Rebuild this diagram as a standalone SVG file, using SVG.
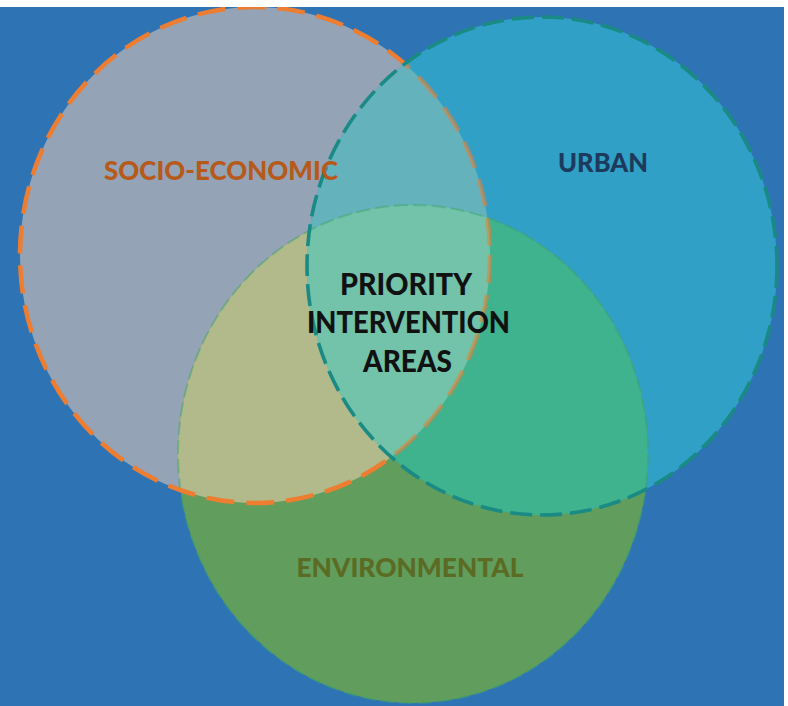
<svg xmlns="http://www.w3.org/2000/svg" width="788" height="706" viewBox="0 0 788 706">
  <style>
    .lbl { font-family: Lato, "Open Sans", "Liberation Sans", sans-serif; font-weight: 900; text-anchor: middle; }
    .dashS { fill: none; stroke: #ED7D31; stroke-width: 4.5; stroke-dasharray: 28 12; }
    .dashU { fill: none; stroke: #1A8A84; stroke-width: 3.6; stroke-dasharray: 22 8; }
    .dashE { fill: none; stroke: #3FA46A; stroke-width: 2; stroke-dasharray: 14 5; stroke-opacity: 0.45; }
  </style>
  <defs>
    <clipPath id="cS"><ellipse cx="255" cy="255" rx="235" ry="248"/></clipPath>
    <clipPath id="cU"><ellipse cx="542" cy="266" rx="235" ry="249"/></clipPath>
    <clipPath id="cBg"><rect x="0" y="7" width="784" height="699"/></clipPath>
    <mask id="outU">
      <rect x="0" y="0" width="788" height="706" fill="#fff"/>
      <ellipse cx="542" cy="266" rx="235" ry="249" fill="#000"/>
    </mask>
  </defs>
  <rect x="0" y="0" width="788" height="706" fill="#FFFFFF"/>
  <rect x="0" y="7" width="784" height="699" fill="#2E74B5"/>
  <g clip-path="url(#cBg)">
    <g id="socio-economic">
      <ellipse cx="255" cy="255" rx="235" ry="248" fill="#94A3B5"/>
    </g>
    <g id="urban">
      <ellipse cx="542" cy="266" rx="235" ry="249" fill="#30A0C6"/>
    </g>
    <g id="environmental">
      <ellipse cx="413" cy="454" rx="235" ry="249" fill="#619D5C"/>
    </g>
    <g id="overlaps">
      <g clip-path="url(#cS)"><ellipse cx="542" cy="266" rx="235" ry="249" fill="#63B2BC"/></g>
      <g clip-path="url(#cS)"><ellipse cx="413" cy="454" rx="235" ry="249" fill="#B2BA8B"/></g>
      <g clip-path="url(#cU)"><ellipse cx="413" cy="454" rx="235" ry="249" fill="#3FB28E"/></g>
      <g clip-path="url(#cS)"><g clip-path="url(#cU)"><ellipse cx="413" cy="454" rx="235" ry="249" fill="#72C3AA"/></g></g>
    </g>
    <g id="outlines">
      <ellipse class="dashE" cx="413" cy="454" rx="235" ry="249"/>
      <ellipse class="dashS" cx="255" cy="255" rx="235" ry="248" mask="url(#outU)"/>
      <g clip-path="url(#cU)"><ellipse class="dashS" cx="255" cy="255" rx="235" ry="248" stroke="#B9A46E" stroke-opacity="0.55"/></g>
      <ellipse class="dashU" cx="542" cy="266" rx="235" ry="249"/>
    </g>
  </g>
  <g id="labels">
    <text class="lbl" x="221" y="180" font-size="26" fill="#B65A1C" textLength="234" lengthAdjust="spacingAndGlyphs">SOCIO-ECONOMIC</text>
    <text class="lbl" x="603" y="172" font-size="26" fill="#1D3A5C" textLength="90" lengthAdjust="spacingAndGlyphs">URBAN</text>
    <text class="lbl" x="410" y="577" font-size="26" fill="#5B6B24" textLength="227" lengthAdjust="spacingAndGlyphs">ENVIRONMENTAL</text>
    <text class="lbl" x="406" y="295" font-size="31" fill="#111111" textLength="132" lengthAdjust="spacingAndGlyphs">PRIORITY</text>
    <text class="lbl" x="408.5" y="333" font-size="31" fill="#111111" textLength="203" lengthAdjust="spacingAndGlyphs">INTERVENTION</text>
    <text class="lbl" x="407.5" y="372" font-size="31" fill="#111111" textLength="89" lengthAdjust="spacingAndGlyphs">AREAS</text>
  </g>
</svg>
